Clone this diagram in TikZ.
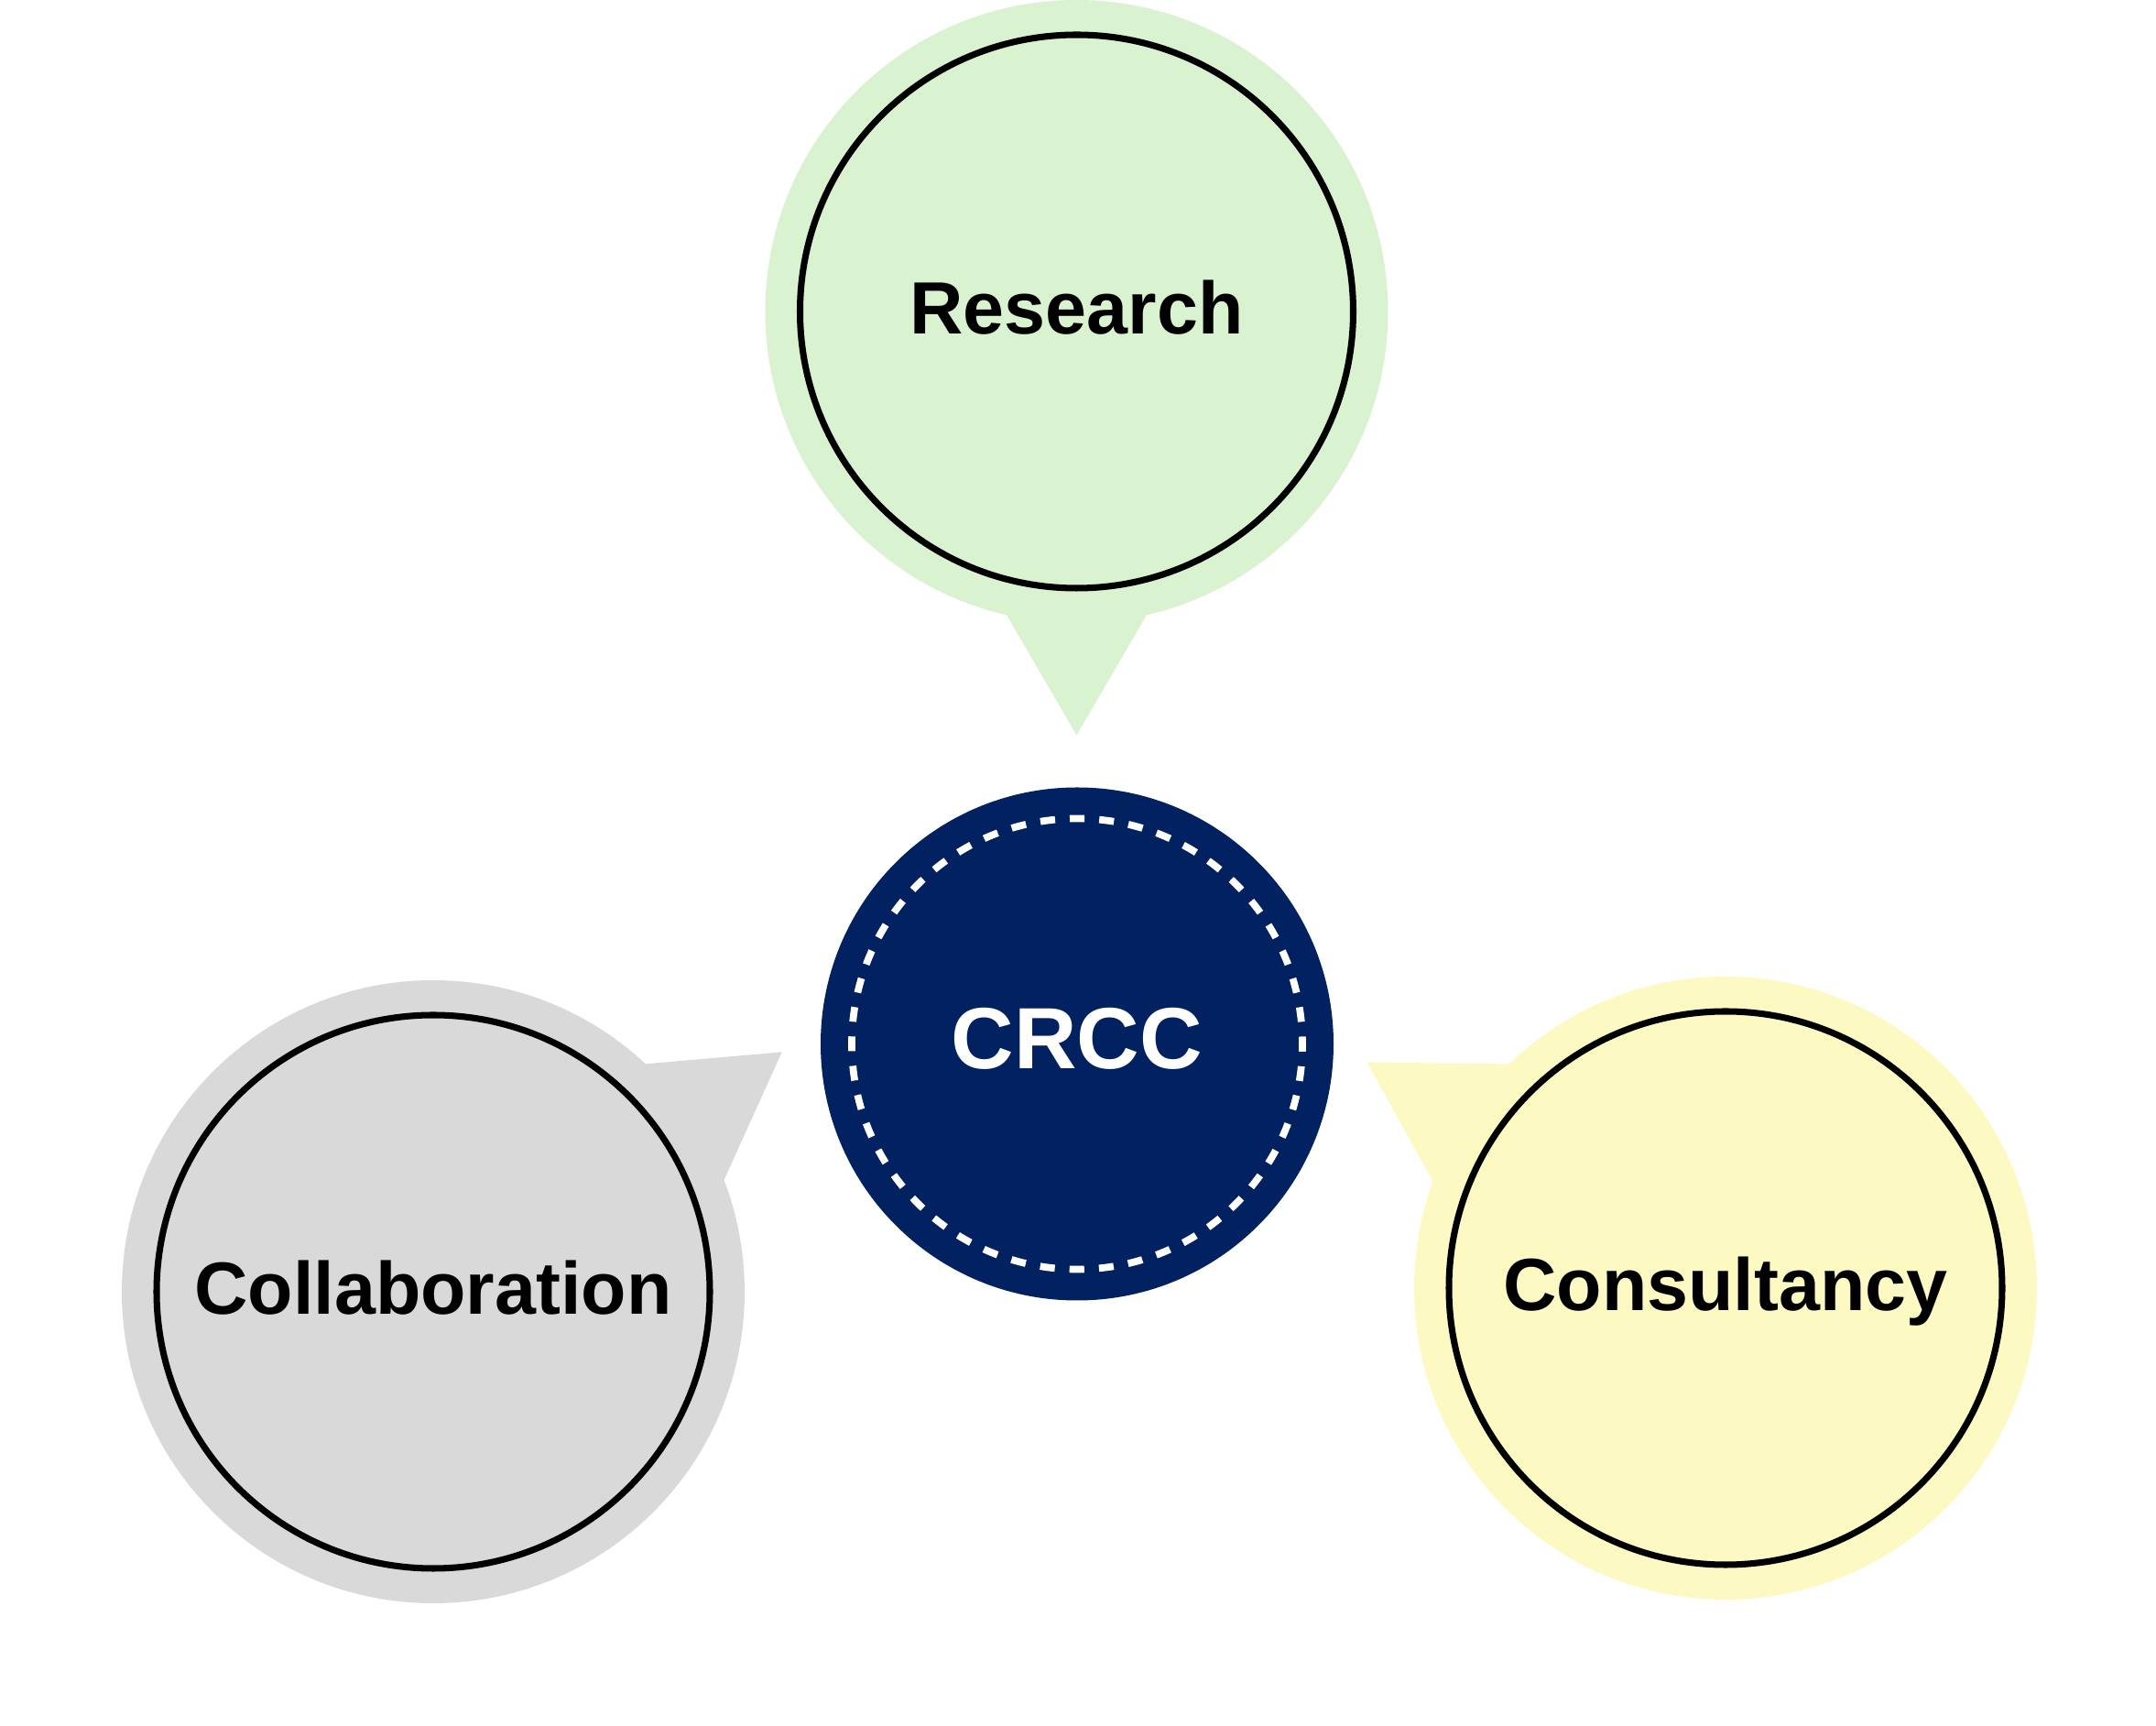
\documentclass[tikz,border=0pt]{standalone}
\usepackage{fontspec}
\setmainfont{Liberation Sans}
\usepackage{xcolor}
\usetikzlibrary{calc}
\definecolor{crccblue}{HTML}{022160}
\definecolor{resgreen}{HTML}{D9F2D0}
\definecolor{colgray}{HTML}{D9D9D9}
\definecolor{conyellow}{HTML}{FCFAC2}

\begin{document}
\begin{tikzpicture}
        \tikzset{
            bubble/.style={circle, minimum size=6.8cm, inner sep=0pt, outer sep=0pt},
            ring/.style={circle, draw=black, line width=2pt, minimum size=6.04cm, inner sep=0pt,
                font=\fontsize{23}{27}\selectfont\bfseries, text depth=0.1cm},
            hub/.style={circle, fill=crccblue, minimum size=5.6cm, inner sep=0pt, text=white,
                font=\fontsize{27}{32}\selectfont\bfseries, text depth=0.12cm},
            dashring/.style={draw=white, line width=2.2pt, dash pattern=on 0.161cm off 0.161cm, dash phase=0.0805cm}
        }
        % Fix the page size
        \useasboundingbox (0,0) rectangle (23.54,18.84);

        % Centre circle with the dashed ring
        \node[hub] (crcc) at (11.76,7.445) {CRCC};
        \draw[dashring] (crcc.center) circle (2.46cm);

        % Research bubble, tail pointing down
        \node[bubble, fill=resgreen] (resout) at (11.755,15.44) {};
        \fill[resgreen] (resout.-103) -- ($(resout.center)+(-90:4.625)$) -- (resout.-77) -- cycle;
        \node[ring] (res) at (resout.center) {Research};

        % Collaboration bubble, tail pointing up right
        \node[bubble, fill=colgray] (colout) at (4.73,4.74) {};
        \fill[colgray] (colout.21.5) -- ($(colout.center)+(34.5:4.62)$) -- (colout.47.5) -- cycle;
        \node[ring] (col) at (colout.center) {Collaboration};

        % Consultancy bubble, tail pointing up left
        \node[bubble, fill=conyellow] (conout) at (18.84,4.78) {};
        \fill[conyellow] (conout.134.8) -- ($(conout.center)+(147.8:4.625)$) -- (conout.160.8) -- cycle;
        \node[ring] (con) at (conout.center) {Consultancy};
    \end{tikzpicture}
\end{document}
